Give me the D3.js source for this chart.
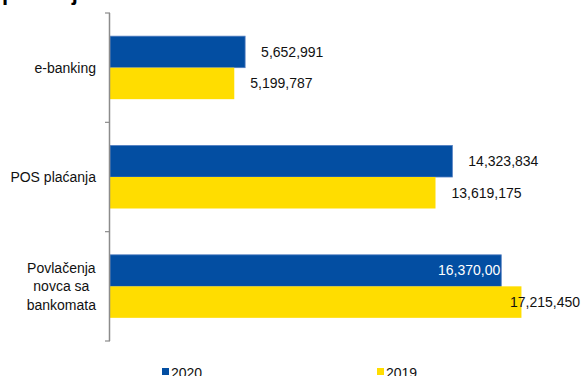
<!DOCTYPE html>
<html>
<head>
<meta charset="utf-8">
<script src="https://d3js.org/d3.v7.min.js"></script>
<style>
  body { margin: 0; background: #fff; }
  * { font-family: "Liberation Sans", Arial, sans-serif; }
  .label { font-size: 14px; fill: #111; }
  .category { font-size: 14px; fill: #111; }
</style>
</head>
<body>
<script>
  // data
  var categories = ["e-banking", "POS plaćanja", "Povlačenja novca sa bankomata"];
  var series = ["2020", "2019"];
  var values2020 = [5652991, 14323834, 16370000];
  var values2019 = [5199787, 13619175, 17215450];
  var labels2020 = ["5,652,991", "14,323,834", "16,370,00"];
  var labels2019 = ["5,199,787", "13,619,175", "17,215,450"];
  var colors = {"2020": "#034ea2", "2019": "#ffdd00"};

  var width = 583, height = 376;

  var svg = d3.select("body").append("svg")
    .attr("width", width)
    .attr("height", height);

  // title, cut off at the top of the picture
  svg.append("text")
    .attr("x", 2)
    .attr("y", 0)
    .style("font-size", "22px")
    .style("font-weight", "bold")
    .text("plaćanja");

  var data = categories.map(function(c, i) {
    return {
      name: c,
      vals: [
        {s: "2020", v: values2020[i], label: labels2020[i]},
        {s: "2019", v: values2019[i], label: labels2019[i]}
      ]
    };
  });

  var x = d3.scaleLinear()
    .domain([0, 20000000])
    .range([110, 588]);

  var y = d3.scaleBand()
    .domain(categories)
    .range([13, 341]);

  var inner = d3.scaleBand()
    .domain(series)
    .range([0, 63]);

  var groups = svg.selectAll(".grp")
    .data(data)
    .enter().append("g")
    .attr("class", "grp")
    .attr("transform", d => "translate(0," + (y(d.name) + (y.bandwidth() - 63) / 2) + ")");

  groups.each(function(d) {
    var g = d3.select(this);
    d.vals.forEach(function(e) {
      g.append("rect")
        .attr("x", x(0))
        .attr("y", inner(e.s))
        .attr("width", x(e.v) - x(0))
        .attr("height", inner.bandwidth())
        .attr("fill", colors[e.s])
        .attr("stroke", e.s === "2020" ? "#4f7cc0" : "none")
        .attr("stroke-width", 0.8);

      var t = g.append("text")
        .attr("class", "label")
        .attr("y", inner(e.s) + inner.bandwidth() / 2)
        .attr("dy", "0.35em")
        .text(e.label);
      var w = t.node().getComputedTextLength();
      var lx = x(e.v) + 16;
      if (lx + w > 565) {
        // no room outside: put the label inside the bar or against the edge
        if (e.s === "2020") {
          t.attr("x", x(e.v) - 1).attr("text-anchor", "end").style("fill", "#fff");
        } else {
          t.attr("x", 580).attr("text-anchor", "end");
        }
      } else {
        t.attr("x", lx);
      }
    });
  });

  // axis
  var axis = svg.append("g")
    .attr("transform", "translate(" + x(0) + ",0)")
    .call(d3.axisLeft(y).tickSize(0).tickFormat(""));
  axis.select(".domain").remove();
  axis.append("line")
    .attr("x1", -0.5).attr("x2", -0.5)
    .attr("y1", y.range()[0]).attr("y2", y.range()[1])
    .attr("stroke", "#8c8c8c").attr("stroke-width", 1.5);
  var edges = categories.map(c => y(c)).concat([y.range()[1]]);
  axis.selectAll(".edge")
    .data(edges)
    .enter().append("line")
    .attr("x1", -5).attr("x2", 0)
    .attr("y1", d => d).attr("y2", d => d)
    .attr("stroke", "#8c8c8c").attr("stroke-width", 1.2);

  // category labels, wrapped and centered in a block ending at x=96
  var wraps = {
    "e-banking": ["e-banking"],
    "POS plaćanja": ["POS plaćanja"],
    "Povlačenja novca sa bankomata": ["Povlačenja", "novca sa", "bankomata"]
  };
  categories.forEach(function(c) {
    var lines = wraps[c];
    var lh = 18.5;
    var cy = y(c) + y.bandwidth() / 2;
    var t = svg.append("text").attr("class", "category");
    lines.forEach(function(l, i) {
      t.append("tspan").text(l);
    });
    var widths = [];
    t.selectAll("tspan").each(function() { widths.push(this.getComputedTextLength()); });
    var maxW = d3.max(widths);
    var cx = 96 - maxW / 2;
    t.selectAll("tspan")
      .attr("x", cx)
      .attr("text-anchor", "middle")
      .attr("y", (d, i) => cy + (i - (lines.length - 1) / 2) * lh)
      .attr("dy", "0.35em");
  });

  // legend
  var legendX = [162, 377];
  series.forEach(function(s, i) {
    svg.append("rect")
      .attr("x", legendX[i]).attr("y", 368)
      .attr("width", 7).attr("height", 7)
      .attr("fill", colors[s]);
    svg.append("text")
      .attr("class", "label")
      .attr("x", legendX[i] + 9).attr("y", 378)
      .text(s);
  });
</script>
</body>
</html>
